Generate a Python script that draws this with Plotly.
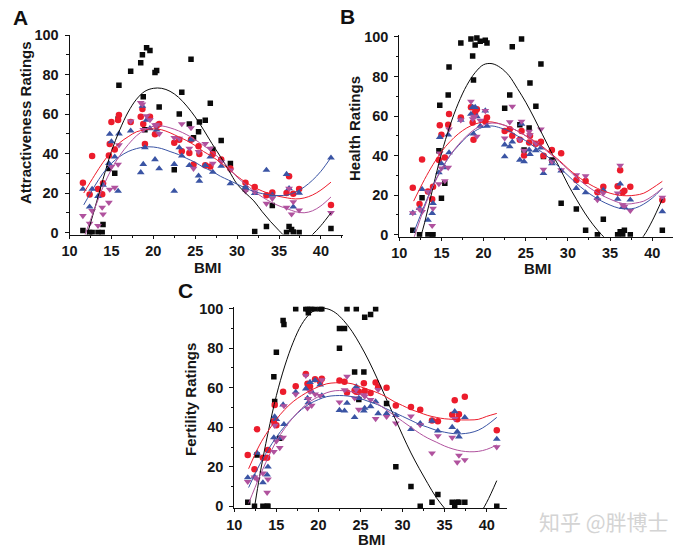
import plotly.graph_objects as go

W, H = 685, 550
OFF = 0
N = None
BMI = [11.6,12.4,12.7,13.4,13.9,14.0,14.7,14.8,15.0,15.4,15.8,15.9,17.3,18.5,18.7,18.8,19.0,19.2,19.6,20.2,20.4,20.7,
       22.5,23.1,23.4,24.3,24.5,24.8,25.4,25.5,26.2,26.8,27.1,28.1,29.2,31.0,32.1,33.5,34.2,35.9,36.2,36.5,36.7,37.4,41.2,22.5]
CURVE_X = [11.7]+list(range(13,41))+[41.2]

A_black = [1,0,0,0,0,4,32.4,N,N,30,57.5,74.5,81.6,86,90,68.7,52,93.5,92.2,81,82,63.5,
           31.8,60,71,55,87.7,48,51,56,56.8,65.4,42,46.6,35,22,0.5,3,13.7,0,3,1.5,0.3,0,2,N]
A_red = [25.2,19.3,38.7,22,19.4,25,39,44.8,56,42,57,59.5,56,58.6,62.5,55,44.8,N,58.6,49.7,54,55,
         45.4,47,41.2,40.2,47,34.5,43.7,39.7,34,33.4,39.7,37,32.4,25.2,23,18.9,20.3,20,28.5,N,19.6,22,13.9,N]
A_blue = [22,13,22,18.4,N,24,35,49.8,46,38.3,21,50,51.5,30.4,64,34.6,43,57,52.7,37,52,32.4,
          34.6,43,38.8,34,47,N,28.7,26,34,38.3,30.6,33.6,24.8,22.8,19.8,31.6,19,29.5,22.3,N,13,20,37.8,21]
A_purple = [8.5,4.6,11,3.5,12.7,9.3,15.2,21.8,33.3,22.8,34.5,44.3,56.4,65.7,65,52,N,59,57,54.4,54.4,50,
            48,47.6,55,42.6,53,32.4,40.9,N,45,42.6,35,35.8,31.6,21,20.6,14.7,17.2,12.7,22.3,9.3,15.5,11.3,10,N]
A_black_fit = [-7,12,27,41,52,61,67.5,71.5,73,73,71.5,68.5,64,58.5,52,45,38.5,31.5,24.5,20,16,10.5,5.5,1,-3,-5,-4.5,-1,3.5,10]
A_red_fit = [20,29,35.5,41,45.5,48.5,51,52,52.5,52,50.5,48.5,46.5,44,41,38.5,35.5,32,28.5,25.5,23,21,19.5,18.3,17.5,17,17.5,19,21.5,25.5]
A_blue_fit = [14,23.5,30,35,38.5,41,42.5,43.3,43.3,42.5,41,39.5,37.5,35.5,33,31,28.5,26.5,24.5,22.5,20.8,19.7,19,18.7,19,20.5,23,26.5,31,38]
A_purple_fit = [-3,12,23,32,39,44.5,49,52,53.8,54,53,51.5,49.5,47,44,41,37,33,28,24.5,21,18,15.5,13.5,12,10.5,10,11,13.5,18]

B_black = [2.2,0,18.7,0,0,0,42.5,65.5,18.4,26,70.6,84.8,97,99,90.4,78.2,96,99.5,97.8,98.3,97,N,
           64,70.6,95,55.6,99,42.9,54,76.7,65,86.3,39.5,37.8,15.9,13,2.2,0,7.8,0,1.5,0,2.2,0,2.2,N]
B_red = [23.8,15.5,38,21.8,18,24.3,37.8,55.4,50.5,39,55.6,61,59.3,64.5,56.8,48,62,63.5,N,57.3,59.3,N,
         52.5,53.4,50,48,52.5,40,46.6,50,46,47,39.9,42.9,41.2,27.7,27.2,21.5,24.2,24.5,32.6,21.5,22.3,24.2,17.6,N]
B_blue = [11,13.3,23,7.4,10.8,15.9,31.4,49.3,36,34,50.5,41.5,58,61,64.5,51,64.5,59.8,55,62.7,55,N,
          39.5,44.6,47,37.8,56,37,42.9,40.7,42.6,44,31,36,32.3,23.5,21.3,18.4,22.6,18,25.7,13.9,13.9,17.6,11.7,45.5]
B_purple = [11,12.8,11.7,21.8,4.6,13.3,25.7,41.2,33.6,27.2,34,53.4,58,67.4,58.6,59.5,59.8,49.7,57.8,62.7,N,N,
            48.8,57,64.9,48,57.3,42.6,52.2,50.5,46.3,53.4,33,37,32.8,30.2,29.7,17.6,21,21,35,15,14.2,12.2,18.9,N]
B_black_fit = [-13,6,24,41,55,66.5,75.5,82,86,86.5,84.5,80.5,74,67,59,50.5,42,34,25.5,18,11,5,0,-4,-7,-7.5,-5.5,-0.5,7,18]
B_red_fit = [17,28,35.5,42,47,51,54,56,57,57,56,54.5,52.5,50,47.5,44.5,41,37.5,33.5,30,27,24.5,22.5,21,20,19.7,20,21,23.5,27]
B_blue_fit = [1,15,25,33,40,45,49.5,52.5,54.5,55,54,52.5,50,47.5,44.5,41.5,38,34,30,26,22.5,19.5,17,15,13.5,13,13.5,15.5,18.5,23.5]
B_purple_fit = [-2,14,24.5,33,40,45.5,50,53.5,55.5,56.5,56,54.5,52.5,50,47,44,40.5,37,33,29,25.5,22.5,20,18,16.3,15.5,16,17,19.5,23.5]

C_black = [2,0,26,0,0,0,65.5,53,78,34.5,94,92,100,100,100,98,100,100,100,100,100,N,
           90,90,100,68,100,54,68,95.7,97,100,N,52,20,10,0,2,6,2,0.5,2,2,2,0,80]
C_red = [26,18.7,39,24.6,24.6,28.5,43,51.3,41,N,58,N,60.8,67,62,60.6,60.6,N,64.3,63,64.5,N,
         63.7,63,57.6,58.6,58,58,62.3,58.4,57.3,62.7,60.3,60,51,50.3,48.8,43.4,43,46.3,53.7,44,46.6,55.4,38.5,N]
C_blue = [14.5,15,27,12,15.9,20,34.8,45.4,44,34.5,51.4,41.5,57.8,59.5,54.7,52.5,62.8,58,63.7,61.5,56,N,
          48.6,48.3,52.2,45,60.6,54.7,48.3,49.7,50.5,53,47,47,46,39,42,43.2,38.2,40,48,37.8,35.2,45,34,N]
C_purple = [12.5,14.7,13.7,16.7,7,13.7,27.7,40.9,33,29.6,34.8,50.8,56.7,66.2,49.7,54.4,58,51,56.7,56,64,N,
            52.7,58.9,65.7,54.7,59,49,56.4,55.6,53.9,44.3,59,45.4,42,45.6,41.2,26.9,35.6,34.8,44.3,22.3,25.8,23.5,30,N]
C_black_fit = [-20,15,37,56,71,83,92,97.5,100,100,98,94,88.5,81.5,73.5,64.5,55,45.5,36,27,19,11.5,4.5,-1,-6,-9,-9,-5,2,13]
C_red_fit = [19,31,38,44,49,53,56,58.5,60.5,62,62.5,62.5,62,60.5,59,57.5,55.5,53,51,49,47.5,46,45,44.3,44,43.7,43.7,44,45.5,47]
C_blue_fit = [9.5,21,28.5,35,40.5,45,49,52,54,55.5,56,56,55.5,54.5,53,51.5,49.5,47.5,45.5,43.5,41.5,40,38.5,37.5,36.8,36.7,37.2,38.5,41,45]
C_purple_fit = [1.5,15,24.5,33,39.5,45,49.5,53,55.5,57.5,58.5,58.5,58,56.5,54.5,52,49,46,43,40,37,34.5,32.5,30.5,29,28,27.6,27.8,28.8,31]

Y_TITLES = ["Attractiveness Ratings", "Health Ratings", "Fertility Ratings"]
TICKS_Y = [0,20,40,60,80,100]
TICKS_X = [10,15,20,25,30,35,40]
BLACK, RED, BLUE, PURPLE = "#0a0a0a", "#ec1c2c", "#3a54a4", "#b0529e"
FONT = "Liberation Sans"

panels = [
    dict(l=69.5, r=342.7, t=35.0, b=234.5, xmax=42.6, ymax=100, data=[A_black,A_red,A_blue,A_purple], fits=[A_black_fit,A_red_fit,A_blue_fit,A_purple_fit],
         ytitle=(25,123), xtitle=(208,266)),
    dict(l=399.3, r=672.7, t=35.0, b=236.7, xmax=42.43, ymax=101, data=[B_black,B_red,B_blue,B_purple], fits=[B_black_fit,B_red_fit,B_blue_fit,B_purple_fit],
         ytitle=(354,129), xtitle=(538,267)),
    dict(l=234.3, r=507.3, t=306.7, b=508.3, xmax=42.45, ymax=101, data=[C_black,C_red,C_blue,C_purple], fits=[C_black_fit,C_red_fit,C_blue_fit,C_purple_fit],
         ytitle=(190,400), xtitle=(372,538)),
]
styles = [(BLACK,"square",5.5),(RED,"circle",6.5),(BLUE,"triangle-up",6.8),(PURPLE,"triangle-down",6.8)]

def px(v): return (v-OFF)/W
def py(v): return 1-(v-OFF)/H

fig = go.Figure()
layout = {}
ann = []
titlef = dict(family=FONT,size=15,color="#161616",weight="bold")
for i,p in enumerate(panels):
    sfx = "" if i==0 else str(i+1)
    xa, ya = "x"+sfx, "y"+sfx
    for ys,(c,sym,sz) in zip(p["data"],styles):
        fig.add_trace(go.Scatter(x=BMI,y=ys,mode="markers",xaxis=xa,yaxis=ya,showlegend=False,
                                 marker=dict(color=c,symbol=sym,size=sz,line=dict(width=0))))
    for ys,(c,sym,sz) in zip(p["fits"],styles):
        fig.add_trace(go.Scatter(x=CURVE_X,y=ys,mode="lines",xaxis=xa,yaxis=ya,showlegend=False,
                                 line=dict(color=c,width=1,shape="spline",smoothing=1)))
    tickf = dict(family=FONT,size=14.5,color="#161616",weight="bold")
    layout["xaxis"+sfx] = dict(domain=[px(p["l"]),px(p["r"])],range=[10,p["xmax"]],anchor=ya,showgrid=False,zeroline=False,automargin=False,
        showline=True,linecolor="#111",linewidth=1,ticks="outside",ticklen=3,tickwidth=1,tickcolor="#111",
        tickvals=TICKS_X,minor=dict(dtick=2.5,ticks="outside",ticklen=2,tickwidth=1,tickcolor="#111",showgrid=False),
        tickfont=tickf)
    layout["yaxis"+sfx] = dict(domain=[py(p["b"]),py(p["t"])],range=[-1,p["ymax"]],anchor=xa,showgrid=False,zeroline=False,automargin=False,
        showline=True,linecolor="#111",linewidth=1,ticks="outside",ticklen=4,tickwidth=1,tickcolor="#111",ticklabelstandoff=3,
        tickvals=TICKS_Y,minor=dict(dtick=10,ticks="outside",ticklen=2.5,tickwidth=1,tickcolor="#111",showgrid=False),
        tickfont=tickf)
    ann.append(dict(text=Y_TITLES[i],x=px(p["ytitle"][0]),y=py(p["ytitle"][1]),xref="paper",yref="paper",textangle=-90,
                    xanchor="center",yanchor="middle",showarrow=False,font=titlef,borderpad=0))
    ann.append(dict(text="BMI",x=px(p["xtitle"][0]),y=py(p["xtitle"][1]+1),xref="paper",yref="paper",
                    xanchor="center",yanchor="middle",showarrow=False,font=titlef,borderpad=0,height=14))

for txt,x,y in [("A",20,18),("B",348,17),("C",185,290)]:
    ann.append(dict(text=txt,x=px(x),y=py(y),xref="paper",yref="paper",xanchor="center",yanchor="middle",showarrow=False,
                    font=dict(family=FONT,size=21,color="#111",weight="bold"),borderpad=0))
ann.append(dict(text="知乎 @胖博士",x=px(604),y=py(521),xref="paper",yref="paper",xanchor="center",yanchor="middle",showarrow=False,
                font=dict(family="Noto Sans CJK SC",size=21,color="#d4d4d4")))
fig.update_layout(width=W,height=H,margin=dict(l=0,r=0,t=0,b=0),paper_bgcolor="white",plot_bgcolor="white",
                  showlegend=False,annotations=ann,**layout)
fig.write_html("out.html", post_script="document.body.style.margin='0';", config={"displayModeBar":False})
